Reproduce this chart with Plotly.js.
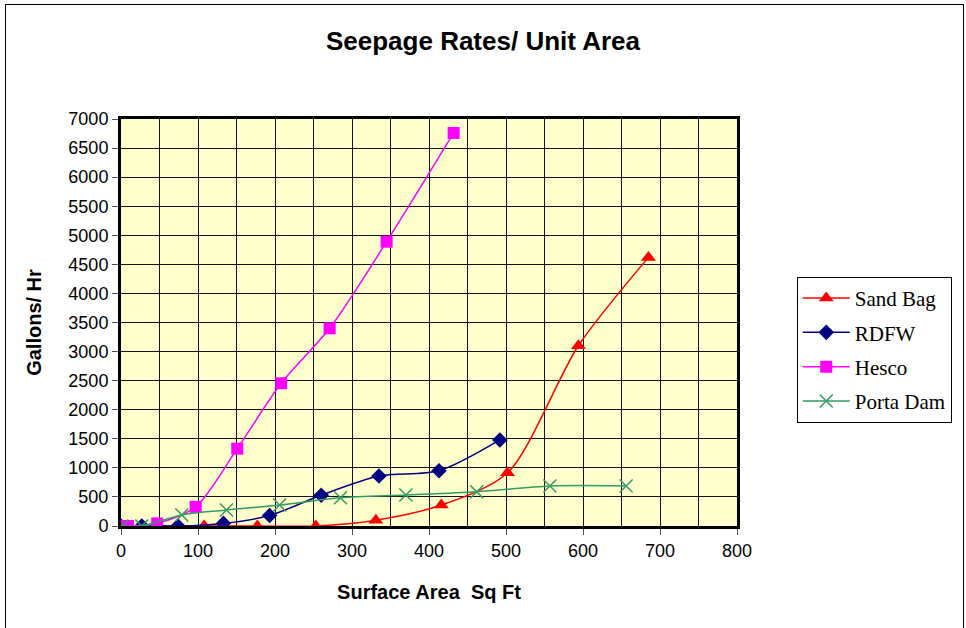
<!DOCTYPE html>
<html>
<head>
<meta charset="utf-8">
<script src="https://cdn.plot.ly/plotly-3.0.1.min.js"></script>
<style>
html,body{margin:0;padding:0;background:#fff;}
#wrap{position:relative;width:966px;height:628px;overflow:hidden;}
#chart{width:966px;height:628px;}
#frame{position:absolute;left:5px;top:4px;width:957px;height:700px;border:1.5px solid #000;pointer-events:none;}
</style>
</head>
<body>
<div id="wrap"><div id="chart"></div><div id="frame"></div></div>
<script>
// Surface area (sq ft) and seepage (gallons/hr) per product
const sandBagX  = [45, 108, 177, 253, 331, 416, 502, 594, 685];
const sandBagY  = [0, 0, 0, 0, 100, 360, 915, 3100, 4620];
const rdfwX     = [0, 27, 74, 133, 193, 260, 335, 413, 492];
const rdfwY     = [0, 0, 0, 45, 180, 530, 860, 950, 1480];
const hescoX    = [0, 9, 47, 97, 151, 208, 271, 345, 432];
const hescoY    = [0, 0, 45, 330, 1330, 2455, 3400, 4890, 6760];
const portaDamX = [1, 27, 79, 137, 206, 285, 370, 462, 557, 656];
const portaDamY = [0, 0, 190, 275, 360, 485, 533, 590, 688, 688];
const seriesNames = ["Sand Bag", "RDFW", "Hesco", "Porta Dam"];

const traces = [
  {x: sandBagX, y: sandBagY, name: seriesNames[0], mode: "lines+markers",
   line: {color: "#FF0000", width: 1.5, shape: "spline", smoothing: 0.8},
   marker: {symbol: "triangle-up", size: 13, color: "#FF0000"}},
  {x: rdfwX, y: rdfwY, name: seriesNames[1], mode: "lines+markers",
   line: {color: "#000080", width: 1.5, shape: "spline", smoothing: 0.8},
   marker: {symbol: "diamond", size: 12, color: "#000080"}},
  {x: hescoX, y: hescoY, name: seriesNames[2], mode: "lines+markers",
   line: {color: "#FF00FF", width: 1.5, shape: "spline", smoothing: 0.8},
   marker: {symbol: "square", size: 12, color: "#FF00FF"}},
  {x: portaDamX, y: portaDamY, name: seriesNames[3], mode: "lines+markers",
   line: {color: "#339966", width: 1.5, shape: "spline", smoothing: 0.8},
   marker: {symbol: "x-thin-open", size: 13, color: "#339966", line: {width: 1.5, color: "#339966"}}}
];
traces.forEach((t, i) => { t.legendgroup = "g" + i; });

const layout = {
  width: 966, height: 628,
  margin: {l: 121, r: 229, t: 119, b: 102},
  paper_bgcolor: "#FFFFFF",
  plot_bgcolor: "#FFFFCC",
  font: {family: "Liberation Sans, Arial, sans-serif", color: "#000"},
  title: {text: "<b>Seepage Rates/ Unit Area</b>", font: {size: 26, family: "Liberation Sans, Arial, sans-serif"},
          x: 0.5, xref: "container", y: 0.935, yref: "container", yanchor: "middle"},
  xaxis: {
    range: [0, 800], dtick: 100, tick0: 0,
    showgrid: true, gridcolor: "#111", gridwidth: 1,
    minor: {dtick: 50, showgrid: true, gridcolor: "#111", gridwidth: 1},
    showline: true, linecolor: "#000", linewidth: 3, mirror: true,
    ticks: "outside", ticklen: 6, tickcolor: "#555",
    tickfont: {size: 18}, zeroline: false,
    title: {text: "<b>Surface Area\u00a0\u00a0Sq Ft</b>", font: {size: 20}, standoff: 26}
  },
  yaxis: {
    range: [0, 7000], dtick: 500, tick0: 0,
    showgrid: true, gridcolor: "#111", gridwidth: 1,
    showline: true, linecolor: "#000", linewidth: 3, mirror: true,
    ticks: "outside", ticklen: 6, tickcolor: "#555",
    tickfont: {size: 18}, zeroline: false,
    title: {text: "<b>Gallons/ Hr</b>", font: {size: 20}, standoff: 22}
  },
  legend: {
    x: 1.097, y: 0.612, xanchor: "left", yanchor: "top",
    bordercolor: "#000", borderwidth: 1, bgcolor: "#FFFFFF",
    font: {family: "Liberation Serif, Times New Roman, serif", size: 21, color: "#000"},
    traceorder: "grouped", tracegroupgap: 4, itemwidth: 47
  },
  showlegend: true
};

Plotly.newPlot("chart", traces, layout, {displayModeBar: false, staticPlot: true});
</script>
</body>
</html>
